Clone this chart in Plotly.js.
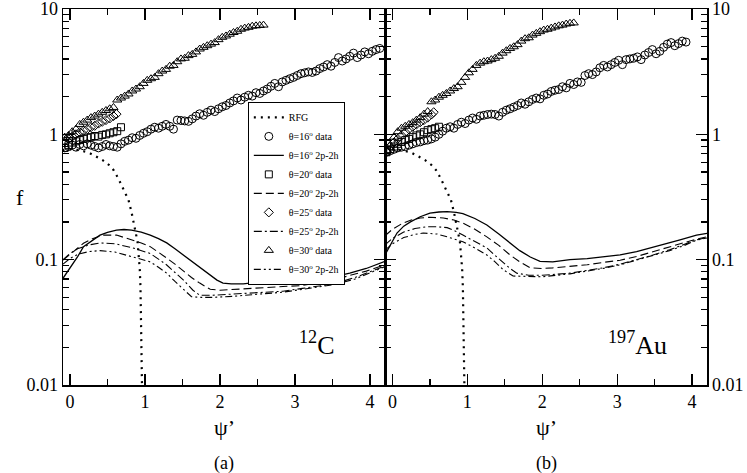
<!DOCTYPE html>
<html>
<head>
<meta charset="utf-8">
<script src="https://cdn.plot.ly/plotly-3.0.1.min.js"></script>
<style>
  html, body { margin: 0; padding: 0; background: #fff; }
  #chart { width: 747px; height: 473px; }
</style>
</head>
<body>
<div id="chart"></div>
<script>
// ---- RFG scaling function (same curve in both panels)
const rfgX = [-0.1, 0.0, 0.1, 0.24, 0.34, 0.44, 0.52, 0.58, 0.64, 0.69, 0.74, 0.78, 0.82, 0.85, 0.88, 0.9, 0.92, 0.93, 0.94, 0.95, 0.96];
const rfgF = [0.75, 0.76, 0.75, 0.72, 0.67, 0.62, 0.57, 0.52, 0.45, 0.39, 0.34, 0.30, 0.24, 0.19, 0.16, 0.14, 0.105, 0.085, 0.06, 0.031, 0.0099];

// ---- (a) 12C data
const c16X = [-0.07, -0.02, 0.03, 0.08, 0.13, 0.18, 0.23, 0.28, 0.33, 0.38, 0.43, 0.48, 0.53, 0.58, 0.63, 0.68, 0.73, 0.78, 0.83, 0.88, 0.93, 0.98, 1.03, 1.08, 1.13, 1.18, 1.23, 1.28, 1.33, 1.38, 1.43, 1.48, 1.53, 1.58, 1.63, 1.68, 1.73, 1.78, 1.83, 1.88, 1.93, 1.98, 2.03, 2.08, 2.13, 2.18, 2.23, 2.28, 2.33, 2.38, 2.43, 2.48, 2.53, 2.58, 2.63, 2.68, 2.73, 2.78, 2.83, 2.88, 2.93, 2.98, 3.03, 3.08, 3.13, 3.18, 3.23, 3.28, 3.33, 3.38, 3.43, 3.48, 3.53, 3.58, 3.63, 3.68, 3.73, 3.78, 3.83, 3.88, 3.93, 3.98, 4.03, 4.08, 4.13];
const c16F = [0.78, 0.80, 0.82, 0.79, 0.83, 0.81, 0.84, 0.82, 0.80, 0.78, 0.80, 0.83, 0.81, 0.80, 0.79, 0.84, 0.88, 0.90, 0.94, 0.93, 0.98, 1.02, 1.05, 1.10, 1.14, 1.12, 1.16, 1.20, 1.16, 1.10, 1.30, 1.29, 1.28, 1.27, 1.33, 1.40, 1.46, 1.42, 1.50, 1.56, 1.52, 1.60, 1.66, 1.70, 1.78, 1.85, 1.95, 1.88, 1.98, 2.05, 2.02, 2.15, 2.12, 2.22, 2.30, 2.42, 2.55, 2.40, 2.62, 2.70, 2.78, 2.85, 2.95, 3.05, 3.10, 3.15, 3.12, 3.20, 3.35, 3.45, 3.60, 3.50, 3.75, 4.10, 3.85, 4.00, 4.20, 4.45, 4.10, 4.30, 4.55, 4.40, 4.60, 4.75, 4.85];
const c20X = [-0.07, -0.02, 0.03, 0.08, 0.13, 0.18, 0.23, 0.28, 0.33, 0.38, 0.43, 0.48, 0.53, 0.58, 0.63, 0.68];
const c20F = [0.78, 0.82, 0.86, 0.88, 0.90, 0.92, 0.94, 0.95, 0.97, 0.96, 0.99, 1.00, 1.02, 1.04, 1.06, 1.14];
const c25X = [-0.07, -0.02, 0.03, 0.08, 0.13, 0.18, 0.23, 0.28, 0.33, 0.38, 0.43, 0.48, 0.53, 0.58, 0.62];
const c25F = [0.88, 0.92, 0.96, 1.00, 1.04, 1.07, 1.10, 1.14, 1.17, 1.22, 1.26, 1.30, 1.34, 1.40, 1.45];
const c30X = [-0.07, -0.02, 0.03, 0.08, 0.13, 0.18, 0.23, 0.28, 0.33, 0.38, 0.43, 0.48, 0.53, 0.58, 0.63, 0.68, 0.73, 0.78, 0.83, 0.88, 0.93, 0.98, 1.03, 1.08, 1.13, 1.18, 1.23, 1.28, 1.33, 1.38, 1.43, 1.48, 1.53, 1.58, 1.63, 1.68, 1.73, 1.78, 1.83, 1.88, 1.93, 1.98, 2.03, 2.08, 2.13, 2.18, 2.23, 2.28, 2.33, 2.38, 2.43, 2.48, 2.53, 2.58];
const c30F = [0.95, 0.98, 1.05, 1.10, 1.20, 1.25, 1.30, 1.36, 1.40, 1.45, 1.50, 1.55, 1.60, 1.64, 1.88, 1.95, 2.02, 2.10, 2.22, 2.30, 2.40, 2.55, 2.70, 2.78, 2.85, 3.05, 3.20, 3.30, 3.50, 3.55, 3.80, 4.00, 4.05, 4.25, 4.35, 4.55, 4.80, 4.95, 5.10, 5.25, 5.40, 5.70, 5.95, 6.10, 6.30, 6.50, 6.65, 6.90, 7.05, 7.15, 7.30, 7.35, 7.40, 7.45];

// ---- (a) 12C 2p-2h model curves
const cT16X = [-0.093, 0.0, 0.1, 0.18, 0.3, 0.4, 0.5, 0.62, 0.72, 0.82, 0.95, 1.07, 1.18, 1.29, 1.4, 1.51, 1.62, 1.73, 1.85, 1.96, 2.04, 2.15, 2.31, 2.49, 2.65, 2.84, 3.05, 3.29, 3.51, 3.73, 3.95, 4.13, 4.2];
const cT16F = [0.071, 0.085, 0.105, 0.127, 0.143, 0.157, 0.165, 0.172, 0.174, 0.172, 0.166, 0.157, 0.147, 0.136, 0.122, 0.109, 0.097, 0.086, 0.076, 0.0687, 0.065, 0.064, 0.064, 0.066, 0.066, 0.067, 0.068, 0.070, 0.073, 0.078, 0.085, 0.094, 0.097];
const cT20X = [-0.093, 0.0, 0.18, 0.3, 0.44, 0.62, 0.8, 0.95, 1.07, 1.18, 1.29, 1.4, 1.51, 1.62, 1.73, 1.87, 2.0, 2.18, 2.4, 2.62, 2.84, 3.07, 3.3, 3.51, 3.75, 3.95, 4.13, 4.2];
const cT20F = [0.099, 0.110, 0.135, 0.147, 0.157, 0.157, 0.146, 0.136, 0.127, 0.115, 0.103, 0.092, 0.081, 0.072, 0.065, 0.058, 0.057, 0.058, 0.059, 0.060, 0.061, 0.062, 0.065, 0.069, 0.075, 0.081, 0.088, 0.091];
const cT25X = [-0.093, 0.0, 0.1, 0.25, 0.4, 0.6, 0.84, 0.95, 1.07, 1.18, 1.29, 1.4, 1.51, 1.64, 1.73, 1.9, 2.18, 2.5, 2.84, 3.1, 3.51, 3.8, 4.13, 4.2];
const cT25F = [0.10, 0.112, 0.122, 0.131, 0.136, 0.134, 0.124, 0.118, 0.112, 0.101, 0.0906, 0.079, 0.069, 0.057, 0.052, 0.052, 0.053, 0.054, 0.056, 0.059, 0.064, 0.072, 0.086, 0.089];
const cT30X = [-0.093, 0.0, 0.1, 0.25, 0.4, 0.6, 0.84, 0.95, 1.07, 1.18, 1.29, 1.4, 1.51, 1.62, 1.75, 1.9, 2.18, 2.5, 2.84, 3.1, 3.51, 3.8, 4.13, 4.2];
const cT30F = [0.092, 0.102, 0.110, 0.116, 0.118, 0.115, 0.105, 0.101, 0.096, 0.087, 0.078, 0.067, 0.058, 0.0506, 0.050, 0.050, 0.051, 0.053, 0.055, 0.058, 0.063, 0.070, 0.085, 0.088];

// ---- (b) 197Au data
const a16X = [-0.08, -0.03, 0.02, 0.07, 0.12, 0.17, 0.22, 0.27, 0.32, 0.37, 0.42, 0.47, 0.52, 0.57, 0.62, 0.67, 0.72, 0.77, 0.82, 0.87, 0.92, 0.97, 1.02, 1.07, 1.12, 1.17, 1.22, 1.27, 1.32, 1.37, 1.42, 1.47, 1.52, 1.57, 1.62, 1.67, 1.72, 1.77, 1.82, 1.87, 1.92, 1.97, 2.02, 2.07, 2.12, 2.17, 2.22, 2.27, 2.32, 2.37, 2.42, 2.47, 2.52, 2.57, 2.62, 2.67, 2.72, 2.77, 2.82, 2.87, 2.92, 2.97, 3.02, 3.07, 3.12, 3.17, 3.22, 3.27, 3.32, 3.37, 3.42, 3.47, 3.52, 3.57, 3.62, 3.67, 3.72, 3.77, 3.82, 3.87, 3.92];
const a16F = [0.72, 0.74, 0.76, 0.78, 0.79, 0.80, 0.82, 0.84, 0.86, 0.87, 0.89, 0.90, 0.92, 0.95, 1.00, 1.06, 1.12, 1.15, 1.12, 1.20, 1.25, 1.22, 1.30, 1.35, 1.32, 1.40, 1.42, 1.44, 1.45, 1.44, 1.40, 1.50, 1.56, 1.60, 1.65, 1.70, 1.78, 1.74, 1.82, 1.90, 1.95, 1.92, 2.05, 2.10, 2.20, 2.25, 2.28, 2.40, 2.35, 2.55, 2.50, 2.62, 2.60, 2.95, 3.05, 3.00, 3.15, 3.40, 3.55, 3.45, 3.60, 3.75, 3.90, 3.60, 3.95, 4.00, 4.05, 4.15, 3.95, 4.30, 4.50, 4.75, 4.40, 4.60, 4.95, 5.25, 5.40, 5.10, 5.30, 5.55, 5.45];
const a20X = [-0.08, -0.03, 0.02, 0.07, 0.12, 0.17, 0.22, 0.27, 0.32, 0.37, 0.42, 0.47, 0.52, 0.57, 0.62];
const a20F = [0.72, 0.76, 0.80, 0.84, 0.87, 0.90, 0.92, 0.95, 0.98, 1.00, 1.04, 1.08, 1.10, 1.12, 1.15];
const a25X = [-0.08, -0.03, 0.02, 0.07, 0.12, 0.17, 0.22, 0.27, 0.32, 0.37, 0.42, 0.47, 0.52, 0.55];
const a25F = [0.73, 0.80, 0.86, 0.92, 0.98, 1.04, 1.10, 1.15, 1.20, 1.25, 1.30, 1.36, 1.44, 1.50];
const a30X = [-0.08, -0.03, 0.02, 0.07, 0.12, 0.17, 0.22, 0.27, 0.32, 0.37, 0.42, 0.47, 0.52, 0.57, 0.62, 0.67, 0.72, 0.77, 0.82, 0.87, 0.92, 0.97, 1.02, 1.07, 1.12, 1.17, 1.22, 1.27, 1.32, 1.37, 1.42, 1.47, 1.52, 1.57, 1.62, 1.67, 1.72, 1.77, 1.82, 1.87, 1.92, 1.97, 2.02, 2.07, 2.12, 2.17, 2.22, 2.27, 2.32, 2.37, 2.42];
const a30F = [0.74, 0.82, 0.95, 1.05, 1.12, 1.16, 1.20, 1.24, 1.30, 1.36, 1.45, 1.52, 1.82, 1.88, 1.98, 2.05, 2.12, 2.22, 2.32, 2.40, 2.60, 2.85, 3.10, 3.30, 3.55, 3.70, 3.80, 3.85, 3.95, 4.05, 4.20, 4.45, 4.65, 4.85, 5.00, 5.20, 5.55, 5.80, 5.90, 6.20, 6.40, 6.60, 6.80, 6.90, 7.05, 7.20, 7.35, 7.45, 7.60, 7.70, 7.75];

// ---- (b) 197Au 2p-2h model curves
const aT16X = [-0.1, 0.0, 0.06, 0.15, 0.24, 0.37, 0.5, 0.62, 0.73, 0.85, 0.94, 1.1, 1.26, 1.42, 1.57, 1.7, 1.84, 1.97, 2.14, 2.37, 2.6, 2.81, 3.04, 3.26, 3.45, 3.61, 3.84, 4.06, 4.2];
const aT16F = [0.109, 0.14, 0.163, 0.185, 0.2, 0.22, 0.235, 0.24, 0.242, 0.238, 0.233, 0.213, 0.189, 0.16, 0.135, 0.118, 0.105, 0.097, 0.096, 0.1, 0.102, 0.105, 0.109, 0.116, 0.124, 0.133, 0.144, 0.157, 0.162];
const aT20X = [-0.1, 0.0, 0.14, 0.25, 0.37, 0.5, 0.68, 0.82, 0.94, 1.1, 1.26, 1.42, 1.57, 1.7, 1.84, 2.0, 2.14, 2.37, 2.6, 2.81, 3.04, 3.26, 3.48, 3.7, 3.9, 4.06, 4.2];
const aT20F = [0.155, 0.175, 0.196, 0.207, 0.215, 0.218, 0.215, 0.207, 0.196, 0.175, 0.152, 0.13, 0.109, 0.096, 0.086, 0.085, 0.086, 0.088, 0.091, 0.095, 0.099, 0.106, 0.116, 0.126, 0.136, 0.146, 0.152];
const aT25X = [-0.1, 0.0, 0.15, 0.3, 0.46, 0.6, 0.73, 0.85, 0.94, 1.1, 1.26, 1.37, 1.48, 1.57, 1.66, 1.82, 2.0, 2.37, 2.6, 2.81, 3.04, 3.26, 3.48, 3.7, 3.9, 4.06, 4.2];
const aT25F = [0.131, 0.148, 0.166, 0.177, 0.183, 0.183, 0.18, 0.168, 0.157, 0.14, 0.124, 0.108, 0.094, 0.085, 0.078, 0.075, 0.075, 0.078, 0.082, 0.086, 0.092, 0.1, 0.109, 0.12, 0.132, 0.144, 0.15];
const aT30X = [-0.1, 0.0, 0.15, 0.3, 0.41, 0.6, 0.73, 0.85, 0.94, 1.1, 1.26, 1.37, 1.48, 1.61, 1.7, 1.82, 2.0, 2.37, 2.6, 2.81, 3.04, 3.26, 3.48, 3.7, 3.9, 4.06, 4.2];
const aT30F = [0.119, 0.134, 0.15, 0.159, 0.163, 0.16, 0.152, 0.144, 0.139, 0.124, 0.109, 0.096, 0.083, 0.074, 0.074, 0.073, 0.073, 0.077, 0.081, 0.085, 0.091, 0.099, 0.107, 0.118, 0.13, 0.143, 0.149];

// ---- axis ticks
const yTickVals = [0.01, 0.1, 1, 10];
const yTickText = ["0.01", "0.1", "1", "10"];
const yMinorVals = [0.02, 0.03, 0.04, 0.05, 0.06, 0.07, 0.08, 0.09, 0.2, 0.3, 0.4, 0.5, 0.6, 0.7, 0.8, 0.9, 2, 3, 4, 5, 6, 7, 8, 9];

const legendNames = ["RFG", "θ=16<sup>o</sup> data", "θ=16<sup>o</sup> 2p-2h", "θ=20<sup>o</sup> data", "θ=20<sup>o</sup> 2p-2h",
                     "θ=25<sup>o</sup> data", "θ=25<sup>o</sup> 2p-2h", "θ=30<sup>o</sup> data", "θ=30<sup>o</sup> 2p-2h"];

const lineStyles = [
  {width: 1.3, dash: "solid"},
  {width: 1.1, dash: "8px,4px"},
  {width: 1.1, dash: "8px,3px,2px,3px"},
  {width: 1.1, dash: "7px,3px,2px,3px,2px,3px"}
];
const symbols = ["circle-open", "square-open", "diamond-open", "triangle-up-open"];
const symSize = [8, 7, 7, 8];

function panelTraces(xa, ya, showleg, rfg, pts, curves) {
  let out = [];
  out.push({
    x: rfg[0], y: rfg[1], xaxis: xa, yaxis: ya, mode: "lines", name: legendNames[0],
    showlegend: showleg, line: {color: "black", width: 2.2, dash: "2px,5px"}
  });
  for (let i = 0; i < 4; i++) {
    out.push({
      x: pts[i][0], y: pts[i][1], xaxis: xa, yaxis: ya, mode: "markers", name: legendNames[1 + 2 * i],
      showlegend: showleg,
      marker: {symbol: symbols[i], size: symSize[i], color: "black", line: {width: 1, color: "black"}}
    });
    out.push({
      x: curves[i][0], y: curves[i][1], xaxis: xa, yaxis: ya, mode: "lines", name: legendNames[2 + 2 * i],
      showlegend: showleg, line: Object.assign({color: "black"}, lineStyles[i])
    });
  }
  return out;
}

let data = [].concat(
  panelTraces("x", "y", true, [rfgX, rfgF],
    [[c16X, c16F], [c20X, c20F], [c25X, c25F], [c30X, c30F]],
    [[cT16X, cT16F], [cT20X, cT20F], [cT25X, cT25F], [cT30X, cT30F]]),
  panelTraces("x2", "y2", false, [rfgX, rfgF],
    [[a16X, a16F], [a20X, a20F], [a25X, a25F], [a30X, a30F]],
    [[aT16X, aT16F], [aT20X, aT20F], [aT25X, aT25F], [aT30X, aT30F]])
);

const font = "'Liberation Serif', 'Times New Roman', serif";

function xAxis(domain, range, anchor) {
  return {
    domain: domain, range: range, anchor: anchor,
    showgrid: false, zeroline: false,
    showline: true, linecolor: "black", linewidth: 1.5, mirror: "ticks",
    ticks: "inside", ticklen: 11, tickwidth: 1.2, tickcolor: "black",
    tickmode: "array", tickvals: [0, 1, 2, 3, 4],
    minor: {tickmode: "array", tickvals: [0.5, 1.5, 2.5, 3.5], ticks: "inside", ticklen: 6, tickwidth: 1.2, tickcolor: "black"},
    tickfont: {family: font, size: 18, color: "black"}
  };
}

function yAxis(side, anchor) {
  return {
    type: "log", range: [-2.0005, 1.0005], side: side, anchor: anchor,
    showgrid: false, zeroline: false,
    showline: true, linecolor: "black", linewidth: 1.5, mirror: "ticks",
    ticks: "inside", ticklen: 11, tickwidth: 1.2, tickcolor: "black",
    tickmode: "array", tickvals: yTickVals, ticktext: yTickText,
    ticklabeloverflow: "allow",
    minor: {tickmode: "array", tickvals: yMinorVals, ticks: "inside", ticklen: 6, tickwidth: 1.2, tickcolor: "black"},
    tickfont: {family: font, size: 18, color: "black"}
  };
}

function label(text, xref, x, y, size) {
  return {text: text, xref: xref, yref: "paper", x: x, y: y, xanchor: "center", yanchor: "middle",
          showarrow: false, font: {family: font, size: size, color: "black"}};
}

let layout = {
  width: 747, height: 473,
  margin: {l: 63, r: 40, t: 9, b: 88},
  paper_bgcolor: "white", plot_bgcolor: "white",
  font: {family: font, color: "black"},
  showlegend: true,
  legend: {
    x: 0.287, y: 0.753, xanchor: "left", yanchor: "top",
    bgcolor: "white", bordercolor: "black", borderwidth: 1,
    font: {family: font, size: 10, color: "black"},
    tracegroupgap: 0, itemwidth: 30
  },
  xaxis: xAxis([0, 0.5], [-0.093, 4.2], "y"),
  xaxis2: xAxis([0.5, 1], [-0.1, 4.2], "y2"),
  yaxis: yAxis("left", "x"),
  yaxis2: yAxis("right", "x2"),
  annotations: [
    label("<sup>12</sup>C", "x", 3.3, 0.11, 26),
    label("<sup>197</sup>Au", "x2", 3.27, 0.11, 26),
    label("f", "paper", -0.067, 0.5, 22),
    label("ψ’", "paper", 0.25, -0.112, 22),
    label("ψ’", "paper", 0.75, -0.112, 22),
    label("(a)", "paper", 0.25, -0.21, 18),
    label("(b)", "paper", 0.75, -0.21, 18)
  ]
};

Plotly.newPlot("chart", data, layout, {displayModeBar: false, staticPlot: true});
</script>
</body>
</html>
